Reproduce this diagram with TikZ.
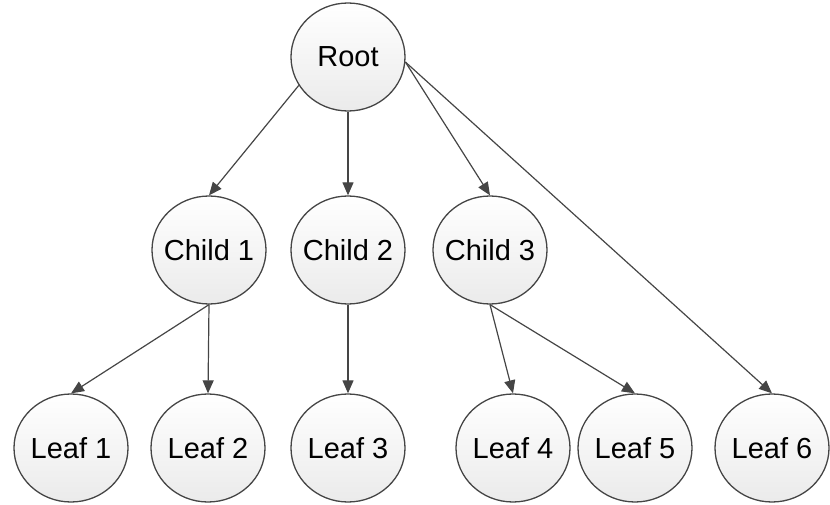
\documentclass[tikz,border=0pt]{standalone}
\usepackage{fontspec}
\setmainfont{Liberation Sans}
\usepackage{tikz}
\usetikzlibrary{arrows.meta, shapes.geometric}
\definecolor{edgegray}{HTML}{454545}
\tikzset{>={Triangle[length=13pt, width=11pt]}}
\tikzset{
  treenode/.style={ellipse, draw=edgegray, line width=1.3pt,
    top color=white, bottom color=white!92!black,
    minimum width=114pt, minimum height=108pt,
    inner sep=0pt, inner xsep=-7pt,
    font=\fontsize{29}{32}\selectfont},
  treeedge/.style={->, draw=edgegray, line width=1.2pt}
}

\begin{document}
\begin{tikzpicture}[x=1pt, y=-1pt]
    \useasboundingbox (0,0) rectangle (830,505);

    % top level
    \node[treenode] (root) at (348,57) {Root};

    % middle level
    \node[treenode] (c1) at (209,250) {Child 1};
    \node[treenode] (c2) at (348,250) {Child 2};
    \node[treenode] (c3) at (490,250) {Child 3};

    % bottom level
    \node[treenode] (l1) at (71,448)  {Leaf 1};
    \node[treenode] (l2) at (208,448) {Leaf 2};
    \node[treenode] (l3) at (348,448) {Leaf 3};
    \node[treenode] (l4) at (513,448) {Leaf 4};
    \node[treenode] (l5) at (635,448) {Leaf 5};
    \node[treenode] (l6) at (772,448) {Leaf 6};

    \draw[treeedge] (root.210) -- (c1.north);
    \draw[treeedge] (root.south) -- (c2.north);
    \draw[treeedge] (root.-5) -- (c3.north);
    \draw[treeedge] (root.-5) -- (l6.north);

    \draw[treeedge] (c1.south) -- (l1.north);
    \draw[treeedge] (c1.south) -- (l2.north);
    \draw[treeedge] (c2.south) -- (l3.north);
    \draw[treeedge] (c3.south) -- (l4.north);
    \draw[treeedge] (c3.south) -- (l5.north);
\end{tikzpicture}
\end{document}
